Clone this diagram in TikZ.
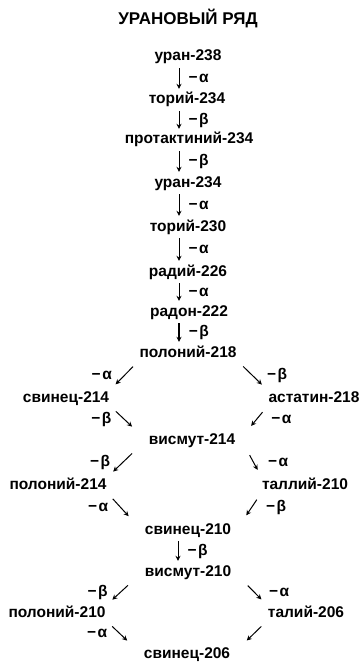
\documentclass[tikz,border=0pt]{standalone}
\usepackage{fontspec}
\setmainfont{Liberation Sans}
\usetikzlibrary{arrows.meta,positioning}

\begin{document}
\begin{tikzpicture}[
    x=1pt, y=-1pt,
    nuclide/.style={inner sep=0pt, text height=11pt, text depth=3pt, font=\fontsize{15.5}{18}\selectfont\bfseries},
    lbl/.style={inner sep=0pt, font=\fontsize{15.5}{18}\selectfont\bfseries},
    decay/.style={-{Stealth[length=5pt,width=5pt]}, line width=1pt},
    down/.style={decay, shorten <=4pt, shorten >=4pt},
    slant/.style={decay, shorten <=9pt, shorten >=9pt}
]
    \useasboundingbox (0,0) rectangle (363,663);
    \node[font=\fontsize{17}{20}\selectfont\bfseries] (title) at (188,19) {УРАНОВЫЙ РЯД};

    \node[nuclide] (u238) at (188,57) {уран-238};
    \node[nuclide] (th234) at (187,100) {торий-234};
    \node[nuclide] (pa234) at (189,140) {протактиний-234};
    \node[nuclide] (u234) at (188,183) {уран-234};
    \node[nuclide] (th230) at (188,227) {торий-230};
    \node[nuclide] (ra226) at (188,272) {радий-226};
    \node[nuclide] (rn222) at (189,312) {радон-222};
    \node[nuclide] (po218) at (188,353) {полоний-218};
    \node[nuclide] (pb214) at (66,398) {свинец-214};
    \node[nuclide] (at218) at (314,398) {астатин-218};
    \node[nuclide] (bi214) at (192,440) {висмут-214};
    \node[nuclide] (po214) at (58,485) {полоний-214};
    \node[nuclide] (tl210) at (305,485) {таллий-210};
    \node[nuclide] (pb210) at (188,530) {свинец-210};
    \node[nuclide] (bi210) at (188,572) {висмут-210};
    \node[nuclide] (po210) at (57,613) {полоний-210};
    \node[nuclide] (tl206) at (306,613) {талий-206};
    \node[nuclide] (pb206) at (187,654) {свинец-206};

    \draw[down] ([xshift=-9pt]u238.south) -- node[lbl, right=9pt] {−\kern1.5ptα} ([xshift=-8pt]th234.north);
    \draw[down] ([xshift=-8pt]th234.south) -- node[lbl, right=9pt] {−\kern1.5ptβ} ([xshift=-10pt]pa234.north);
    \draw[down] ([xshift=-10pt]pa234.south) -- node[lbl, right=9pt] {−\kern1.5ptβ} ([xshift=-9pt]u234.north);
    \draw[down] ([xshift=-9pt]u234.south) -- node[lbl, right=9pt] {−\kern1.5ptα} ([xshift=-9pt]th230.north);
    \draw[down] ([xshift=-9pt]th230.south) -- node[lbl, right=9pt] {−\kern1.5ptα} ([xshift=-9pt]ra226.north);
    \draw[down] ([xshift=-9pt]ra226.south) -- node[lbl, right=9pt] {−\kern1.5ptα} ([xshift=-10pt]rn222.north);
    \draw[down, line width=1.7pt] ([xshift=-10pt]rn222.south) -- node[lbl, right=9pt] {−\kern1.5ptβ} ([xshift=-9pt]po218.north);

    \draw[slant] (po218.south west) -- node[lbl, left=12pt] {−\kern1.5ptα} (pb214.north east);
    \draw[slant] (po218.south east) -- node[lbl, right=14pt] {−\kern1.5ptβ} (at218.north west);
    \draw[slant] (pb214.south east) -- node[lbl, left=12pt] {−\kern1.5ptβ} ([xshift=-10pt]bi214.north west);
    \draw[slant] (at218.south west) -- node[lbl, right=14pt] {−\kern1.5ptα} ([xshift=10pt]bi214.north east);

    \draw[slant] ([xshift=-10pt]bi214.south west) -- node[lbl, left=12pt] {−\kern1.5ptβ} (po214.north east);
    \draw[slant] ([xshift=10pt]bi214.south east) -- node[lbl, right=14pt] {−\kern1.5ptα} (tl210.north west);
    \draw[slant] (po214.south east) -- node[lbl, left=12pt] {−\kern1.5ptα} ([xshift=-10pt]pb210.north west);
    \draw[slant] (tl210.south west) -- node[lbl, right=14pt] {−\kern1.5ptβ} ([xshift=10pt]pb210.north east);

    \draw[down] ([xshift=-10pt]pb210.south) -- node[lbl, right=9pt] {−\kern1.5ptβ} ([xshift=-10pt]bi210.north);

    \draw[slant] ([xshift=-10pt]bi210.south west) -- node[lbl, left=12pt] {−\kern1.5ptβ} (po210.north east);
    \draw[slant] ([xshift=10pt]bi210.south east) -- node[lbl, right=14pt] {−\kern1.5ptα} (tl206.north west);
    \draw[slant] (po210.south east) -- node[lbl, left=12pt] {−\kern1.5ptα} ([xshift=-10pt]pb206.north west);
    \draw[slant] (tl206.south west) -- ([xshift=10pt]pb206.north east);
\end{tikzpicture}
\end{document}
